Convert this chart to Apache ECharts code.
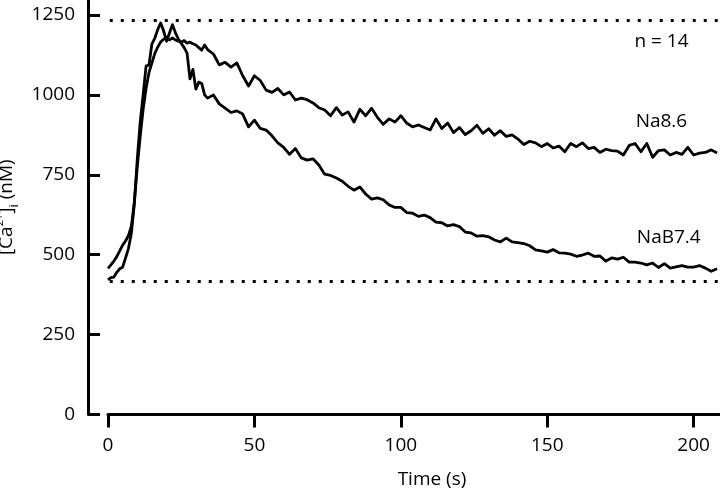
<!DOCTYPE html>
<html>
<head>
<meta charset="utf-8">
<script src="https://cdn.jsdelivr.net/npm/echarts@6/dist/echarts.min.js"></script>
<style>html,body{margin:0;padding:0;background:#fff;}#c{width:720px;height:490px;}</style>
</head>
<body>
<div id="c"></div>
<script>
// time (s)
const times = [0,1,2,3,4,5,6,7,8,9,10,11,12,13,14,15,16,17,18,19,20,21,22,23,24,25,26,27,28,29,30,31,32,33,34,
  36,38,40,42,44,46,48,50,52,54,56,58,60,62,64,66,68,70,72,74,76,78,80,82,84,86,88,90,92,94,96,98,100,
  102,104,106,108,110,112,114,116,118,120,122,124,126,128,130,132,134,136,138,140,142,144,146,148,150,
  152,154,156,158,160,162,164,166,168,170,172,174,176,178,180,182,184,186,188,190,192,194,196,198,200,
  202,204,206,208];
// [Ca2+]i (nM), Na8.6
const na86 = [457,468,480,494,512,530,543,560,590,665,775,870,955,1020,1070,1100,1130,1150,1166,1174,1180,1172,1178,1172,1168,1165,1170,1162,1165,1160,1156,1148,1140,1156,1142,
  1128,1094,1102,1087,1100,1060,1028,1060,1045,1015,1008,1020,1000,1009,984,990,985,975,960,953,935,960,937,947,915,955,935,958,930,908,925,915,935,
  912,900,906,898,890,925,895,912,882,898,876,888,905,880,894,874,888,870,875,862,845,855,850,838,848,
  834,840,822,848,838,850,832,836,820,830,826,824,812,842,848,822,848,805,826,828,812,820,814,836,812,
  818,820,828,818];
// [Ca2+]i (nM), NaB7.4
const nab74 = [421,428,430,445,456,461,490,520,568,660,800,915,1000,1090,1094,1160,1178,1205,1225,1200,1168,1194,1220,1195,1175,1162,1148,1131,1050,1080,1018,1040,1036,1000,990,
  1000,972,959,945,950,940,900,921,895,890,872,850,836,814,832,803,796,800,781,752,748,740,730,714,702,712,690,674,678,672,656,648,648,
  632,630,620,624,616,602,600,590,594,588,571,568,558,560,556,546,540,552,540,538,535,528,515,512,508,
  516,506,505,502,495,499,505,495,496,480,490,486,492,477,477,474,468,474,460,472,458,462,466,461,461,
  466,458,448,456];
const xTicks = [0,50,100,150,200];
const yTicks = [0,250,500,750,1000,1250];
const refLevels = [1234, 418];
const labels = [
  {text: 'n = 14', t: 189, v: 1166},
  {text: 'Na8.6', t: 189, v: 918},
  {text: 'NaB7.4', t: 191.5, v: 555}
];

const FONT = '"Open Sans", "Noto Sans", sans-serif';
const chart = echarts.init(document.getElementById('c'), null, {renderer: 'canvas'});
const pairs = arr => times.map((t, i) => [t, arr[i]]);

chart.setOption({
  animation: false,
  backgroundColor: '#fff',
  grid: {left: 108, right: 0, top: 0, bottom: 75.5, containLabel: false, outerBoundsMode: 'none'},
  xAxis: {
    type: 'value', min: 0, max: 209,
    axisLine: {show: true, onZero: false, lineStyle: {color: '#000', width: 3}},
    axisTick: {show: true, inside: false, length: 13, lineStyle: {color: '#000', width: 3}, customValues: xTicks},
    axisLabel: {show: true, margin: 22, fontSize: 19, color: '#000', fontFamily: FONT, customValues: xTicks,
      formatter: v => String(v)},
    splitLine: {show: false},
    name: 'Time (s)', nameLocation: 'middle', nameGap: 56,
    nameTextStyle: {fontSize: 19, color: '#000', fontFamily: FONT, padding: [0, 0, 0, 36]}
  },
  yAxis: {
    type: 'value', min: 0, max: 1297, offset: 20,
    axisLine: {show: true, onZero: false, lineStyle: {color: '#000', width: 3}},
    axisTick: {show: true, inside: true, length: 12, lineStyle: {color: '#000', width: 3}, customValues: yTicks},
    axisLabel: {show: true, margin: 13, fontSize: 19, color: '#000', fontFamily: FONT, customValues: yTicks,
      formatter: v => String(v)},
    splitLine: {show: false},
    name: '{n|[Ca}{sup|2+}{n|]}{sub|i}{n| (nM)}',
    nameLocation: 'middle', nameGap: 58, nameRotate: 90,
    nameTextStyle: {
      color: '#000', fontFamily: FONT, fontSize: 19,
      rich: {
        n: {fontSize: 19, fontFamily: FONT, color: '#000', lineHeight: 28, verticalAlign: 'middle'},
        sup: {fontSize: 11, fontFamily: FONT, color: '#000', lineHeight: 28, verticalAlign: 'top', padding: [2, 0, 0, 0]},
        sub: {fontSize: 13, fontFamily: FONT, color: '#000', lineHeight: 28, verticalAlign: 'bottom'}
      }
    }
  },
  series: [
    {
      name: 'Na8.6', type: 'line', data: pairs(na86), showSymbol: false, symbol: 'none',
      lineStyle: {color: '#000', width: 2.8, join: 'round'}, z: 3,
      markLine: {
        silent: true, symbol: ['none', 'none'], label: {show: false},
        lineStyle: {color: '#000', width: 3, type: [3, 8], cap: 'butt'},
        data: refLevels.map(v => [{coord: [0.6, v]}, {coord: [209, v]}])
      },
      markPoint: {
        silent: true, symbol: 'circle', symbolSize: 0,
        label: {show: true, position: 'inside', color: '#000', fontSize: 19, fontFamily: FONT, formatter: p => p.name},
        data: labels.map(l => ({name: l.text, coord: [l.t, l.v]}))
      }
    },
    {
      name: 'NaB7.4', type: 'line', data: pairs(nab74), showSymbol: false, symbol: 'none',
      lineStyle: {color: '#000', width: 2.8, join: 'round'}, z: 3
    }
  ]
});
</script>
</body>
</html>
